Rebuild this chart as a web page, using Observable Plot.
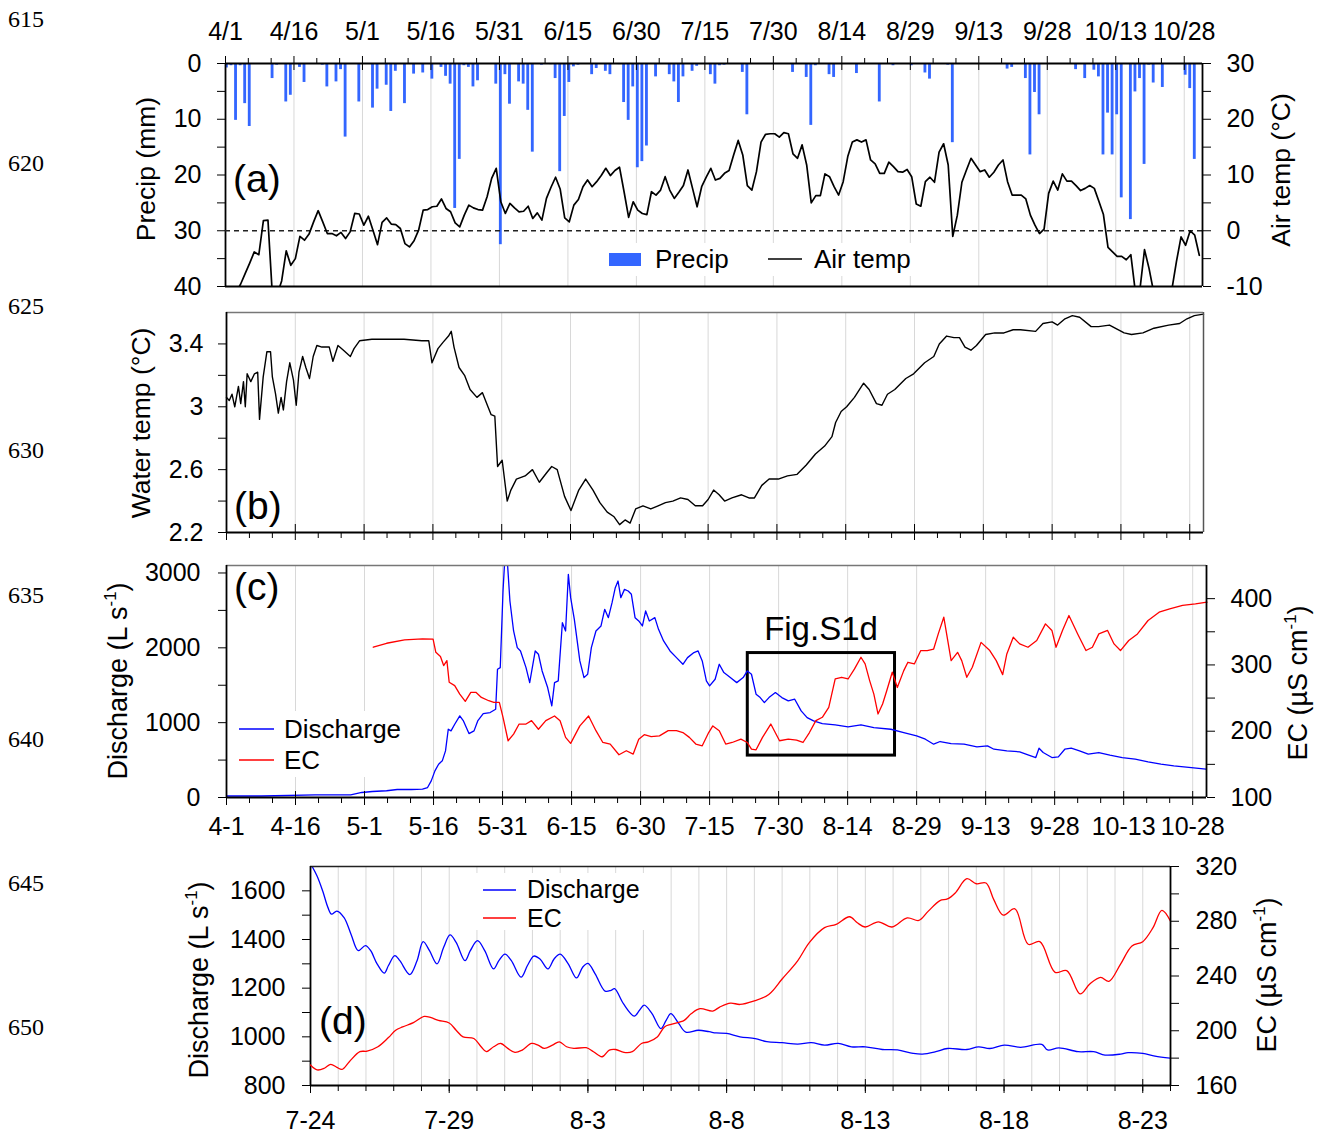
<!DOCTYPE html>
<html><head><meta charset="utf-8">
<script src="https://cdn.jsdelivr.net/npm/d3@7"></script>
<script src="https://cdn.jsdelivr.net/npm/@observablehq/plot@0.6"></script>
<style>
html,body{margin:0;padding:0;background:#fff;}
#chart{position:relative;width:1323px;height:1135px;overflow:hidden;}
#chart svg{position:absolute;left:0;}
</style></head><body><div id="chart"></div>
<script>
const FONT = "'Liberation Sans', Arial, Helvetica, sans-serif";
const DAY = 864e5;
const T0 = Date.UTC(2019, 3, 1);   // 4/1
const TD = Date.UTC(2019, 6, 24);  // 7/24
const at = d => new Date(T0 + d * DAY);
const atD = d => new Date(TD + d * DAY);

// ---------- (a) daily precipitation (mm), from 4/1 ----------
const precip = [
  0.8, 0.4, 10.2, 0.4, 7.2, 11.3, 0, 0, 0, 0,
  2.7, 0.3, 0, 6.9, 5.7, 0, 0.7, 3.4, 0, 0,
  0, 0.3, 4.2, 0, 3.3, 1.1, 13.2, 0, 0.1, 6.9,
  0, 0, 8.0, 4.6, 0, 3.9, 8.6, 1.4, 0, 7.2,
  0, 1.9, 0, 1.7, 0, 2.8, 0, 0.7, 2.3, 3.7,
  26.0, 17.2, 0.4, 0.7, 4.2, 3.1, 0, 0, 0, 3.7,
  32.5, 2.0, 7.3, 0, 3.3, 3.7, 8.4, 15.9, 0, 0.3,
  0, 0.2, 2.7, 19.4, 9.5, 3.4, 0.6, 0.3, 0.1, 0,
  2.0, 0.9, 0, 1.4, 2.0, 0, 0.2, 7.0, 10.2, 4.2,
  18.7, 17.6, 14.8, 0, 2.4, 0, 0, 2.0, 3.3, 7.0,
  2.4, 0, 1.4, 0.5, 0, 0, 2.0, 3.7, 0.4, 0.3,
  0, 0, 0, 1.6, 9.2, 0, 0, 0, 0, 0,
  0, 0, 0, 0, 1.6, 0, 0, 2.5, 11.1, 0.4,
  0, 0, 2.0, 2.5, 0, 0, 0, 0, 1.8, 0,
  0, 0, 0, 6.9, 0, 0, 0.4, 0, 0, 0,
  0.4, 0, 0, 1.7, 2.8, 0, 0, 0, 0.3, 14.2,
  0, 0, 0, 0, 0, 0, 0, 0.1, 0, 0,
  0, 1.0, 0.7, 0, 0, 2.7, 16.4, 5.2, 9.2, 0,
  0, 0, 0, 0, 0, 0, 1.1, 0, 2.7, 0,
  1.2, 2.4, 16.4, 8.9, 16.4, 9.2, 24.1, 0, 28.0, 5.1,
  2.7, 18.1, 0.3, 3.5, 0, 4.3, 0, 0, 0.1, 0,
  2.1, 4.5, 17.2, 0
];
// ---------- (a) daily air temperature (°C), from 4/1 ----------
const airTemp = [
  -16, -14, -11, -9.6, -7.7, -5.8, -3.8, -4.3, 1.8, 1.9,
  -12, -11.5, -9, -3.6, -6.2, -5.0, -1.0, -1.7, -0.6, 1.6,
  3.6, 1.6, -0.5, -0.5, -0.9, -0.3, -1.4, -0.2, 3.1, 3.0,
  1.0, 2.6, 0.1, -2.5, 1.5, 2.3, 1.2, 1.1, 0.4, -2.3,
  -2.9, -1.8, 0.1, 3.7, 3.8, 4.3, 4.4, 5.7, 4.0, 3.4,
  1.4, 0.7, 2.8, 4.6, 4.1, 3.8, 3.7, 6.1, 9.4, 11.2,
  5.2, 3.1, 4.9, 4.1, 3.4, 3.5, 4.4, 2.2, 3.2, 1.9,
  5.8, 7.8, 9.6, 7.5, 2.3, 1.6, 4.6, 5.6, 7.9, 9.1,
  7.9, 8.8, 9.9, 11.2, 9.9, 10.8, 11.4, 7.0, 2.4, 5.2,
  3.7, 3.1, 2.9, 7.0, 6.4, 7.3, 9.7, 7.3, 5.8, 6.9,
  8.1, 10.9, 7.6, 4.3, 7.9, 9.6, 11.2, 9.1, 9.4, 10.3,
  10.8, 13.6, 16.2, 13.6, 8.1, 7.3, 10.6, 15.9, 17.3, 17.4,
  17.4, 16.8, 17.6, 17.4, 13.8, 13.0, 15.4, 11.8, 5.0, 6.3,
  6.3, 10.2, 9.7, 7.9, 6.4, 8.8, 13.3, 15.9, 16.3, 15.9,
  16.3, 12.7, 12.0, 10.3, 10.3, 12.3, 11.5, 10.6, 10.5, 11.0,
  9.7, 4.8, 4.4, 8.8, 9.6, 8.7, 14.1, 15.6, 11.8, -1.0,
  2.8, 8.7, 10.9, 13.0, 11.8, 10.6, 10.9, 9.6, 10.5, 11.8,
  12.7, 8.8, 6.4, 6.4, 6.4, 5.7, 2.8, 1.0, -0.5, 0.3,
  6.7, 8.9, 7.3, 10.2, 8.9, 8.9, 8.1, 7.2, 7.6, 8.1,
  7.6, 5.3, 2.9, -3.0, -3.8, -4.6, -4.6, -5.2, -4.3, -11,
  -10.5, -3.4, -6.8, -11, -13, -14, -13, -10.5, -5.5, -1.1,
  -2.6, 0.0, -0.8, -4.4
];
// ---------- (b) water temperature [day since 4/1, °C] ----------
const waterTemp = [
  [0,3.06],[0.6,3.04],[1.2,3.08],[1.8,3.00],[2.6,3.13],[3.1,3.02],[3.7,3.16],[4.1,3.00],[4.5,3.21],[5.3,3.16],
  [6.1,3.21],[6.8,3.22],[7.2,2.92],[8.0,3.19],[8.8,3.35],[9.6,3.35],[10.0,3.19],[10.7,3.08],[11.3,2.96],[11.9,3.06],
  [12.4,2.98],[13.1,3.16],[13.8,3.28],[14.6,3.17],[15.2,3.01],[15.8,3.22],[16.6,3.32],[17.3,3.25],[18.1,3.18],[18.9,3.32],
  [19.7,3.39],[20.8,3.38],[22.4,3.38],[23.2,3.29],[24.3,3.39],[25.5,3.36],[27.0,3.32],[27.8,3.37],[29.0,3.42],[31.7,3.43],
  [34.8,3.43],[38.7,3.43],[42.6,3.42],[44.1,3.42],[44.8,3.28],[46.1,3.37],[47.2,3.41],[48.4,3.45],[49.0,3.48],[49.6,3.38],
  [50.7,3.25],[51.9,3.20],[53.1,3.11],[54.6,3.06],[55.8,3.09],[57.0,3.00],[57.7,2.95],[58.5,2.94],[59.1,2.62],[60.1,2.66],
  [61.2,2.40],[62.0,2.47],[63.2,2.54],[65.1,2.56],[66.7,2.60],[68.2,2.52],[69.8,2.58],[70.9,2.62],[72.1,2.60],[73.7,2.43],
  [75.1,2.34],[76.8,2.47],[78.3,2.54],[79.9,2.47],[81.4,2.39],[83.0,2.33],[84.5,2.30],[85.7,2.25],[86.9,2.28],[88.0,2.26],
  [89.2,2.35],[90.8,2.37],[92.5,2.35],[94.1,2.37],[95.7,2.39],[97.3,2.40],[99.0,2.42],[100.6,2.41],[102.2,2.37],[103.8,2.37],
  [105.0,2.41],[106.2,2.47],[107.4,2.44],[108.6,2.40],[110.2,2.42],[112.3,2.44],[113.9,2.42],[115.1,2.42],[116.7,2.50],[118.3,2.54],
  [120.3,2.54],[122.3,2.56],[124.4,2.57],[126.4,2.63],[128.4,2.70],[130.4,2.75],[132.0,2.81],[132.8,2.90],[134.0,2.97],[135.2,3.00],
  [136.9,3.06],[138.9,3.15],[140.1,3.11],[141.7,3.02],[142.9,3.01],[144.1,3.08],[145.7,3.11],[148.1,3.18],[149.8,3.21],[152.2,3.28],
  [154.2,3.32],[155.4,3.40],[157.0,3.45],[158.6,3.44],[159.8,3.44],[161.0,3.38],[162.3,3.36],[163.5,3.39],[165.5,3.46],[167.5,3.47],
  [169.5,3.47],[171.5,3.49],[173.1,3.49],[176.4,3.48],[178.0,3.53],[180.0,3.54],[181.2,3.52],[182.8,3.56],[184.4,3.58],[186.0,3.57],
  [188.5,3.51],[190.1,3.51],[192.5,3.52],[195.7,3.47],[197.3,3.46],[199.8,3.47],[202.2,3.50],[205.4,3.52],[207.8,3.53],[209.4,3.56],
  [211.0,3.58],[213.0,3.59]
];
// ---------- (c) discharge [day since 4/1, L/s] ----------
const discharge = [
  [0,20],[7.6,20],[19.3,35],[27.0,35],[29.4,67],[31.7,80],[34.8,90],[37.1,107],[40.2,107],[42.6,111],
  [43.7,133],[44.5,222],[45.3,356],[46.1,445],[46.9,490],[47.6,623],[48.2,912],[48.8,890],[49.6,979],[50.7,1090],
  [51.5,1023],[52.7,854],[53.8,890],[54.6,1023],[55.8,1121],[57.3,1135],[58.5,1179],[58.9,1713],[59.5,1735],[60.1,2760],
  [60.5,3200],[61.1,3100],[61.6,2626],[62.4,2225],[63.2,2003],[63.9,1958],[65.1,1736],[65.9,1535],[67.1,1958],[67.8,1914],
  [68.6,1691],[69.8,1469],[70.7,1224],[71.3,1535],[72.1,1558],[73.0,2336],[73.7,2225],[74.3,2982],[74.8,2670],[75.6,2381],
  [76.8,1825],[77.7,1602],[78.5,1647],[79.3,2003],[80.3,2225],[81.4,2292],[82.2,2514],[83.0,2403],[83.8,2603],[84.5,2804],
  [85.1,2893],[85.7,2670],[86.5,2781],[87.3,2759],[88.0,2715],[88.8,2403],[89.6,2359],[90.4,2292],[91.1,2492],[91.9,2359],
  [93.1,2403],[93.9,2247],[95.0,2092],[96.4,1958],[97.8,1869],[99.2,1780],[100.2,1869],[101.6,1936],[102.5,1958],[103.4,1825],
  [104.3,1558],[105.0,1491],[106.2,1580],[107.1,1780],[108.1,1669],[109.5,1602],[110.9,1535],[112.3,1602],[113.2,1691],[114.1,1647],
  [115.1,1380],[116.0,1335],[116.9,1268],[117.9,1335],[119.3,1402],[120.7,1335],[122.1,1291],[123.5,1313],[124.9,1157],[126.2,1068],
  [127.6,1024],[129.5,988],[132.3,970],[135.1,943],[137.9,970],[140.7,935],[144.4,912],[147.2,868],[150.0,823],[151.9,779],
  [153.7,712],[155.1,748],[157.5,721],[160.3,712],[163.1,676],[165.4,690],[166.8,645],[169.6,623],[172.4,610],[174.2,570],
  [175.9,534],[176.6,659],[177.5,601],[179.4,534],[180.8,543],[182.2,645],[183.6,659],[185.4,623],[187.3,579],[189.6,601],
  [192.0,565],[194.7,534],[197.5,512],[200.3,476],[203.1,445],[205.9,423],[209.7,400],[212.9,378]
];
// ---------- (c) EC [day since 4/1, µS/cm] ----------
const ec = [
  [31.9,326.7],[34.8,332.7],[38.7,337.8],[42.6,339.3],[44.9,339],[45.5,319],[46.5,312.6],[47.2,299],[47.9,306.5],[48.4,273.8],
  [49.6,268.8],[50.7,256],[51.9,245],[53.1,258.7],[54.2,258.7],[55.4,251],[57.0,246],[58.1,243.6],[59.3,243.6],[60.1,221],
  [61.2,185.6],[62.4,195.7],[63.6,210.8],[65.1,210.8],[66.3,215.9],[67.8,203],[69.4,215.9],[71.3,223],[72.5,215.9],[73.7,190.7],
  [74.8,181.6],[76.8,208],[78.7,223],[80.3,200.8],[81.8,183],[83.4,180.6],[85.3,164.5],[86.9,170.5],[88.4,165.5],[89.6,188],
  [90.8,194.7],[92.3,191.7],[94.1,193],[96.0,200.8],[97.8,200.8],[99.2,198],[100.6,190.7],[102.0,180.6],[103.4,178],[104.8,198],
  [105.7,208],[107.1,200.8],[108.5,180.6],[109.9,183],[111.8,188],[113.2,183],[114.1,173],[115.1,172],[116.5,190.7],[118.3,210.8],
  [120.2,185.6],[122.1,188],[123.9,186.6],[125.3,183],[126.7,198],[128.1,215.9],[129.5,221],[130.9,236],[132.3,278.8],[133.7,281.4],
  [135.1,278.8],[136.5,294],[137.9,311.6],[138.8,301.5],[139.8,276],[140.7,256],[141.6,226],[142.6,241],[143.5,261],[144.7,289],
  [145.8,266],[147.2,291.4],[148.1,304],[149.5,301.5],[150.9,321.7],[152.3,321.7],[153.7,324],[154.7,346.8],[155.9,372],[157.5,306.5],
  [158.9,319],[159.8,306.5],[160.9,281.4],[162.1,296.5],[164.0,334],[165.9,321.7],[167.3,306.5],[168.7,285.4],[169.6,316.6],[171.0,341.8],
  [172.4,331.7],[174.2,326.7],[176.1,336.8],[178.0,362],[179.4,352],[180.3,326.7],[181.7,352],[183.1,374.6],[185.0,346.8],[186.8,321.7],
  [188.2,326.7],[189.6,346.8],[191.5,352],[192.9,331.7],[194.3,321.7],[196.1,336.8],[198.0,346.8],[200.3,367],[202.7,379.6],[205.0,384.6],
  [207.8,389.7],[210.6,392],[213.1,394.7]
];
// ---------- (d) discharge [day since 7/24, L/s] ----------
const dischargeD = [
  [0,1712],[0.24,1660],[0.44,1599],[0.63,1531],[0.76,1504],[0.95,1517],[1.21,1490],[1.46,1422],[1.72,1354],[1.98,1375],
  [2.17,1354],[2.4,1300],[2.66,1262],[2.81,1293],[3.04,1334],[3.22,1313],[3.58,1256],[3.84,1313],[4.06,1391],[4.29,1354],
  [4.56,1300],[4.8,1368],[5.03,1419],[5.25,1388],[5.57,1313],[5.76,1354],[6.02,1395],[6.28,1354],[6.6,1279],[6.79,1313],
  [7.01,1340],[7.24,1313],[7.59,1245],[7.82,1293],[8.05,1332],[8.27,1320],[8.56,1279],[8.78,1320],[9.0,1340],[9.29,1300],
  [9.59,1242],[9.81,1286],[10.0,1302],[10.26,1259],[10.62,1188],[10.83,1191],[10.96,1198],[11.28,1136],[11.67,1085],[11.86,1109],
  [12.03,1130],[12.31,1095],[12.63,1034],[12.82,1068],[12.99,1095],[13.27,1055],[13.53,1019],[13.98,1027],[14.37,1021],[14.62,1016],
  [15.0,1014],[15.48,1000],[16.03,993],[16.45,980],[17.0,976],[17.56,970],[18.05,976],[18.53,966],[19.02,973],[19.5,959],
  [20.0,959],[20.61,948],[21.16,946],[21.72,932],[22.06,929],[22.54,939],[22.96,952],[23.66,948],[24.08,959],[24.49,952],
  [25.01,966],[25.6,957],[26.36,969],[26.57,946],[26.98,955],[27.67,939],[28.23,939],[28.64,925],[29.2,929],[29.47,935],
  [30.0,932],[30.44,921],[31.0,912]
];
// ---------- (d) EC [day since 7/24, µS/cm] ----------
const ecD = [
  [0,175.0],[0.24,171.4],[0.5,172.6],[0.73,175.5],[0.95,173.3],[1.14,171.8],[1.4,177.4],[1.78,184.7],[2.04,185.1],[2.43,188.3],
  [2.81,195.0],[3.07,200.4],[3.32,202.8],[3.71,205.9],[4.1,210.5],[4.35,209.5],[4.61,207.6],[5.0,205.7],[5.25,200.4],[5.5,195.5],
  [5.89,194.3],[6.15,188.3],[6.34,184.7],[6.6,188.3],[6.86,190.7],[7.11,187.1],[7.37,184.2],[7.63,185.9],[7.97,190.7],[8.2,189.5],
  [8.43,187.1],[8.72,189.5],[8.97,191.9],[9.23,188.3],[9.49,187.1],[9.94,187.6],[10.2,184.7],[10.51,181.0],[10.77,185.9],[11.0,186.3],
  [11.3,184.2],[11.6,184.7],[11.93,190.7],[12.18,191.9],[12.5,195.5],[12.76,202.8],[13.0,204.7],[13.47,207.6],[13.72,212.4],[14.04,216.1],
  [14.5,214.4],[14.75,217.3],[15.14,220.2],[15.48,219.2],[15.97,221.6],[16.52,226.5],[17.0,237.8],[17.56,251.1],[17.98,264.4],[18.53,275.3],
  [18.95,277.7],[19.43,283.3],[19.71,278.9],[19.99,275.8],[20.47,279.6],[20.96,275.8],[21.51,282.5],[21.93,280.6],[22.27,287.4],[22.69,295.1],
  [22.96,296.3],[23.24,300.7],[23.66,311.1],[24.0,307.4],[24.35,307.9],[24.63,295.8],[24.97,284.5],[25.39,289.1],[25.87,263.2],[26.29,265.1],
  [26.84,242.7],[27.26,243.9],[27.74,226.9],[28.09,234.2],[28.48,239.0],[28.78,236.1],[29.2,248.7],[29.61,262.0],[30.0,265.1],[30.37,275.3],
  [30.69,287.9],[31.0,280.1]
];

// ---------- ticks & labels ----------
const majorDays = [0,15,30,45,60,75,90,105,120,135,150,165,180,195,210];
const minorDays = [5,10,20,25,35,40,50,55,65,70,80,85,95,100,110,115,125,130,140,145,155,160,170,175,185,190,200,205];
const tickLabelsA = ["4/1","4/16","5/1","5/16","5/31","6/15","6/30","7/15","7/30","8/14","8/29","9/13","9/28","10/13","10/28"];
const tickLabelsC = ["4-1","4-16","5-1","5-16","5-31","6-15","6-30","7-15","7-30","8-14","8-29","9-13","9-28","10-13","10-28"];
const majorDaysD = [0,5,10,15,20,25,30];
const tickLabelsD = ["7-24","7-29","8-3","8-8","8-13","8-18","8-23"];
const dailyD = [0,1,2,3,4,5,6,7,8,9,10,11,12,13,14,15,16,17,18,19,20,21,22,23,24,25,26,27,28,29,30,31];
const figBox = [{d1: 113.3, d2: 145.3, q1: 560, q2: 1930}];

const fmtA = d => tickLabelsA[majorDays.indexOf(Math.round((+d - T0) / DAY))];
const fmtC = d => tickLabelsC[majorDays.indexOf(Math.round((+d - T0) / DAY))];
const fmtD = d => tickLabelsD[majorDaysD.indexOf(Math.round((+d - TD) / DAY))];
const none = () => "";
const num = d => String(d);

const W = 1323;
const base = {fontFamily: FONT, fontSize: "25px", color: "#000", background: "none"};
const GRID = "#d8d8d8";
const AX = 1.8;
const chart = document.getElementById("chart");
function place(svg, top) { svg.style.top = top + "px"; chart.appendChild(svg); }

// ===== Panel (a) =====
const aDom = [at(0), at(214)];
const aDims = {width: W, height: 300, marginTop: 63, marginBottom: 14, marginLeft: 225, marginRight: 121};
const precipRows = precip.map((p, i) => ({i, p})).filter(d => d.p > 0);
place(Plot.plot({
  ...aDims, style: base,
  x: {type: "utc", domain: aDom},
  y: {domain: [0, 40], reverse: true},
  marks: [
    Plot.ruleX(majorDays.slice(1), {x: d => at(d), stroke: GRID}),
    Plot.rect(precipRows, {x1: d => at(d.i), x2: d => at(d.i + 0.62), y1: () => 0, y2: "p", fill: "#3366ff"}),
    Plot.axisY({ticks: [0,10,20,30,40], tickSize: 8, tickPadding: 16, tickFormat: num, label: null}),
    Plot.axisY({ticks: [5,15,25,35], tickSize: 8, tickFormat: none, label: null}),
    Plot.axisX({anchor: "top", ticks: majorDays.map(at), tickSize: 8, tickPadding: 16, tickFormat: fmtA, label: null}),
    Plot.axisX({anchor: "top", ticks: minorDays.map(at), tickSize: 6, tickFormat: none, label: null}),
    Plot.tickX(majorDays.map(at), {x: d => d, insetBottom: 223 - 7}),
    Plot.ruleY([0], {strokeWidth: AX}),
    Plot.ruleY([40], {strokeWidth: AX}),
    Plot.ruleX([at(0)], {strokeWidth: AX})
  ]
}), 0);
place(Plot.plot({
  ...aDims, style: base,
  x: {type: "utc", domain: aDom, axis: null},
  y: {domain: [-10, 30]},
  marks: [
    Plot.ruleY([0], {stroke: "#222", strokeDasharray: "5,4", strokeWidth: 1.3}),
    Plot.lineY(airTemp, {x: (t, i) => at(i + 0.3), y: t => t, stroke: "#000", strokeWidth: 1.7, clip: true}),
    Plot.axisY({anchor: "right", ticks: [-10,0,10,20,30], tickSize: 8, tickPadding: 16, tickFormat: num, label: null}),
    Plot.axisY({anchor: "right", ticks: [-5,5,15,25], tickSize: 8, tickFormat: none, label: null}),
    Plot.ruleX([at(214)], {strokeWidth: AX})
  ]
}), 0);

// ===== Panel (b) =====
const bcDom = [at(0), at(213)];
place(Plot.plot({
  width: W, height: 250, marginTop: 12, marginBottom: 18, marginLeft: 226, marginRight: 120,
  style: base,
  x: {type: "utc", domain: bcDom},
  y: {domain: [2.2, 3.6]},
  marks: [
    Plot.ruleX(majorDays.slice(1), {x: d => at(d), stroke: GRID}),
    Plot.lineY(waterTemp, {x: d => at(d[0]), y: d => d[1], stroke: "#000", strokeWidth: 1.4}),
    Plot.axisY({ticks: [2.2, 2.6, 3, 3.4], tickSize: 8, tickPadding: 15, tickFormat: num, label: null}),
    Plot.axisY({ticks: [2.4, 2.8, 3.2], tickSize: 8, tickFormat: none, label: null}),
    Plot.axisX({ticks: majorDays.map(at), tickSize: 8, tickFormat: none, label: null}),
    Plot.axisX({ticks: minorDays.map(at), tickSize: 6, tickFormat: none, label: null}),
    Plot.tickX(majorDays.map(at), {x: d => d, insetTop: 220 - 8}),
    Plot.ruleY([3.6], {stroke: "#777", strokeWidth: 1.5}),
    Plot.ruleY([2.2], {strokeWidth: AX}),
    Plot.ruleX([at(0)], {strokeWidth: AX}),
    Plot.ruleX([at(213)], {stroke: "#555", strokeWidth: 1.5})
  ]
}), 300);

// ===== Panel (c) =====
const cDims = {width: W, height: 300, marginTop: 15, marginBottom: 53, marginLeft: 226, marginRight: 117};
place(Plot.plot({
  ...cDims, style: base,
  x: {type: "utc", domain: bcDom},
  y: {domain: [0, 3100]},
  marks: [
    Plot.ruleX(majorDays.slice(1), {x: d => at(d), stroke: GRID}),
    Plot.rect(figBox, {x1: d => at(d.d1), x2: d => at(d.d2), y1: "q1", y2: "q2", fill: "none", stroke: "#000", strokeWidth: 3}),
    Plot.lineY(discharge, {x: d => at(d[0]), y: d => d[1], stroke: "#0000ff", strokeWidth: 1.3, clip: true}),
    Plot.axisY({ticks: [0,1000,2000,3000], tickSize: 8, tickPadding: 18, tickFormat: num, label: null}),
    Plot.axisY({ticks: [500,1500,2500], tickSize: 8, tickFormat: none, label: null}),
    Plot.axisX({ticks: majorDays.map(at), tickSize: 8, tickPadding: 12, tickFormat: fmtC, label: null}),
    Plot.axisX({ticks: minorDays.map(at), tickSize: 6, tickFormat: none, label: null}),
    Plot.tickX(majorDays.map(at), {x: d => d, insetTop: 232 - 6}),
    Plot.ruleY([3100], {stroke: "#777", strokeWidth: 1.5}),
    Plot.ruleY([0], {strokeWidth: AX}),
    Plot.ruleX([at(0)], {strokeWidth: AX})
  ]
}), 550);
place(Plot.plot({
  ...cDims, style: base,
  x: {type: "utc", domain: bcDom, axis: null},
  y: {domain: [100, 450]},
  marks: [
    Plot.lineY(ec, {x: d => at(d[0]), y: d => d[1], stroke: "#ff0000", strokeWidth: 1.3}),
    Plot.axisY({anchor: "right", ticks: [100,200,300,400], tickSize: 8, tickPadding: 16, tickFormat: num, label: null}),
    Plot.axisY({anchor: "right", ticks: [150,250,350], tickSize: 8, tickFormat: none, label: null}),
    Plot.ruleX([at(213)], {strokeWidth: AX})
  ]
}), 550);

// ===== Panel (d) =====
const dDom = [atD(0), atD(31)];
const dDims = {width: W, height: 285, marginTop: 16, marginBottom: 50, marginLeft: 310, marginRight: 153};
place(Plot.plot({
  ...dDims, style: base,
  x: {type: "utc", domain: dDom},
  y: {domain: [800, 1700]},
  marks: [
    Plot.ruleX(dailyD.slice(1, 31), {x: d => atD(d), stroke: GRID}),
    Plot.lineY(dischargeD, {x: d => atD(d[0]), y: d => d[1], stroke: "#0000ff", strokeWidth: 1.3, curve: "catmull-rom", clip: true}),
    Plot.axisY({ticks: [800,1000,1200,1400,1600], tickSize: 8, tickPadding: 17, tickFormat: num, label: null}),
    Plot.axisY({ticks: [900,1100,1300,1500], tickSize: 8, tickFormat: none, label: null}),
    Plot.axisX({ticks: majorDaysD.map(atD), tickSize: 8, tickPadding: 18, tickFormat: fmtD, label: null}),
    Plot.axisX({ticks: dailyD.map(atD), tickSize: 6, tickFormat: none, label: null}),
    Plot.tickX(majorDaysD.map(atD), {x: d => d, insetTop: 219 - 6}),
    Plot.ruleY([1700], {stroke: "#222", strokeWidth: 1.5}),
    Plot.ruleY([800], {strokeWidth: AX}),
    Plot.ruleX([atD(0)], {strokeWidth: AX})
  ]
}), 850);
place(Plot.plot({
  ...dDims, style: base,
  x: {type: "utc", domain: dDom, axis: null},
  y: {domain: [160, 320]},
  marks: [
    Plot.lineY(ecD, {x: d => atD(d[0]), y: d => d[1], stroke: "#ff0000", strokeWidth: 1.3, curve: "catmull-rom"}),
    Plot.axisY({anchor: "right", ticks: [160,200,240,280,320], tickSize: 8, tickPadding: 17, tickFormat: num, label: null}),
    Plot.axisY({anchor: "right", ticks: [180,220,260,300], tickSize: 8, tickFormat: none, label: null}),
    Plot.ruleX([atD(31)], {strokeWidth: AX})
  ]
}), 850);

// ===== text overlay: titles, legends, panel letters, line numbers =====
const ov = d3.select(chart).append("svg")
  .attr("width", W).attr("height", 1135)
  .style("top", "0px").style("pointer-events", "none")
  .style("font-family", FONT);

const lineNums = ["615","620","625","630","635","640","645","650"];
const lineNumY = [27, 171, 314, 458, 603, 747, 891, 1035];
lineNums.forEach((s, i) => ov.append("text").attr("x", 8).attr("y", lineNumY[i])
  .style("font-family", "'Liberation Serif', 'Times New Roman', serif").style("font-size", "24px").text(s));

function vTitle(x, y, main, sup, tail, size) {
  const t = ov.append("text").attr("transform", `translate(${x},${y}) rotate(-90)`)
    .attr("text-anchor", "middle").attr("y", 0.35 * size).style("font-size", size + "px");
  t.append("tspan").text(main);
  if (sup) {
    t.append("tspan").text(sup).attr("dy", -0.42 * size).style("font-size", (0.62 * size) + "px");
    t.append("tspan").text(tail).attr("dy", 0.42 * size);
  }
}
vTitle(146, 169, "Precip (mm)", null, null, 26.5);
vTitle(1281, 170, "Air temp (°C)", null, null, 26.5);
vTitle(141, 423, "Water temp (°C)", null, null, 26.5);
vTitle(118, 681, "Discharge (L s", "-1", ")", 27);
vTitle(1298, 683, "EC (µS cm", "-1", ")", 27);
vTitle(199, 980, "Discharge (L s", "-1", ")", 27);
vTitle(1267, 975, "EC (µS cm", "-1", ")", 27);

function letter(x, y, s) { ov.append("text").attr("x", x).attr("y", y).style("font-size", "39px").text(s); }
letter(233, 192, "(a)");
letter(234, 519, "(b)");
letter(234, 600, "(c)");
letter(319, 1034, "(d)");

// legend (a)
ov.append("rect").attr("x", 600).attr("y", 243).attr("width", 325).attr("height", 33).attr("fill", "#fff");
ov.append("rect").attr("x", 609).attr("y", 253).attr("width", 32).attr("height", 13).attr("fill", "#3366ff");
ov.append("text").attr("x", 655).attr("y", 268).style("font-size", "26px").text("Precip");
ov.append("line").attr("x1", 768).attr("x2", 802).attr("y1", 259).attr("y2", 259).attr("stroke", "#000").attr("stroke-width", 1.6);
ov.append("text").attr("x", 814).attr("y", 268).style("font-size", "26px").text("Air temp");

// legend (c)
ov.append("rect").attr("x", 232).attr("y", 711).attr("width", 185).attr("height", 66).attr("fill", "#fff");
ov.append("line").attr("x1", 239).attr("x2", 274).attr("y1", 729).attr("y2", 729).attr("stroke", "#0000ff").attr("stroke-width", 1.5);
ov.append("text").attr("x", 284).attr("y", 738).style("font-size", "26px").text("Discharge");
ov.append("line").attr("x1", 239).attr("x2", 274).attr("y1", 760).attr("y2", 760).attr("stroke", "#ff0000").attr("stroke-width", 1.5);
ov.append("text").attr("x", 284).attr("y", 769).style("font-size", "26px").text("EC");

// Fig.S1d label
ov.append("text").attr("x", 821).attr("y", 640).attr("text-anchor", "middle").style("font-size", "33px").text("Fig.S1d");

// legend (d)
ov.append("rect").attr("x", 476).attr("y", 873).attr("width", 182).attr("height", 57).attr("fill", "#fff");
ov.append("line").attr("x1", 483).attr("x2", 516).attr("y1", 890).attr("y2", 890).attr("stroke", "#0000ff").attr("stroke-width", 1.5);
ov.append("text").attr("x", 527).attr("y", 898).style("font-size", "25px").text("Discharge");
ov.append("line").attr("x1", 483).attr("x2", 516).attr("y1", 918).attr("y2", 918).attr("stroke", "#ff0000").attr("stroke-width", 1.5);
ov.append("text").attr("x", 527).attr("y", 927).style("font-size", "25px").text("EC");
</script></body></html>
